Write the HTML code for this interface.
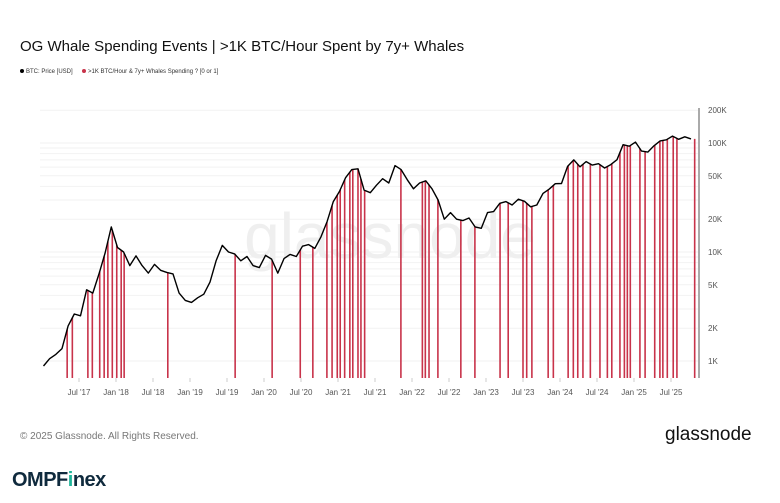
<!DOCTYPE html>
<html><head><meta charset="utf-8"><style>
body{margin:0;background:#fff;font-family:"Liberation Sans",sans-serif;}
#wrap{position:relative;width:780px;height:503px;overflow:hidden;background:#fff}
.t{position:absolute;white-space:nowrap}
</style></head><body>
<div id="wrap">
<div class="t" style="left:20px;top:38px;font-size:15px;color:#111">OG Whale Spending Events | &gt;1K BTC/Hour Spent by 7y+ Whales</div>
<div class="t" style="left:20px;top:69px;font-size:6px;color:#333"><span style="display:inline-block;width:4px;height:4px;border-radius:2px;background:#000;margin-right:2px"></span>BTC: Price [USD]</div>
<div class="t" style="left:82px;top:69px;font-size:6px;color:#333"><span style="display:inline-block;width:4px;height:4px;border-radius:2px;background:#c8334a;margin-right:2px"></span>&gt;1K BTC/Hour &amp; 7y+ Whales Spending ? [0 or 1]</div>
<svg id="chart" width="780" height="503" style="position:absolute;left:0;top:0"></svg>
<div class="t" style="left:20px;top:431px;font-size:10px;color:#777">© 2025 Glassnode. All Rights Reserved.</div>
<div class="t" style="left:665px;top:424px;font-size:19px;color:#111">glassnode</div>
<div class="t" style="left:12px;top:469px;font-size:20px;font-weight:bold;color:#0f2a3d;letter-spacing:-0.5px">OMPF<span style="color:#1fb59a">i</span>nex</div>
</div>
<script>
const priceStart = 2017.0;
const prices = [900,1050,1150,1300,2100,2700,2600,4500,4200,6300,9800,17000,
11000,10000,7500,9200,7500,6400,7700,6800,6500,6300,4200,3600,
3450,3800,4100,5300,8300,11500,10000,9600,8300,9100,7500,7200,
9300,8600,6400,8700,9500,9100,11300,11700,10800,13800,19000,29000,
36000,48000,57000,58000,37000,35000,41000,47000,43000,62000,57000,46000,
38000,43000,45000,38000,30000,20000,23000,20000,19400,20500,17000,16500,
23000,23500,28000,29000,27000,30500,29200,26000,27000,34500,37700,42300,
42500,61000,70000,60500,67500,62700,64600,59000,63300,70200,96400,93400,
102000,84300,82500,94200,104600,107000,115700,108200,114000,109000];
const eventDates = [2017.34,2017.41,2017.62,2017.68,2017.78,2017.84,2017.89,2017.95,2018.01,2018.07,2018.11,2018.70,
2019.61,2020.11,2020.49,2020.66,2020.85,2020.92,2020.99,2021.03,2021.09,2021.16,2021.20,2021.27,2021.31,2021.36,
2021.85,2022.14,2022.18,2022.23,2022.35,2022.66,2022.85,
2023.19,2023.30,2023.50,2023.55,2023.62,2023.84,2023.91,2024.11,2024.18,2024.24,2024.31,2024.41,2024.54,2024.64,2024.70,
2024.81,2024.87,2024.91,2024.95,2025.08,2025.15,2025.28,2025.35,2025.39,2025.45,2025.53,2025.58,2025.82];
const yTicks = [200000,100000,50000,20000,10000,5000,2000,1000];
const yTickLabels = ["200K","100K","50K","20K","10K","5K","2K","1K"];
const xTicks = [2017.5,2018,2018.5,2019,2019.5,2020,2020.5,2021,2021.5,2022,2022.5,2023,2023.5,2024,2024.5,2025,2025.5];
const xTickLabels = ["Jul '17","Jan '18","Jul '18","Jan '19","Jul '19","Jan '20","Jul '20","Jan '21","Jul '21","Jan '22","Jul '22","Jan '23","Jul '23","Jan '24","Jul '24","Jan '25","Jul '25"];

const svg = document.getElementById('chart');
const NS = 'http://www.w3.org/2000/svg';
const X = d => 116 + (d - 2018) * 74;
const Y = v => 143 - 109 * Math.log10(v / 100000);
const bottom = 378;
function mk(tag, attrs){const e=document.createElementNS(NS,tag);for(const k in attrs)e.setAttribute(k,attrs[k]);svg.appendChild(e);return e;}
for (let dec of [1000,10000,100000]) for (let m=1;m<=9;m++){ const v=dec*m; if(v<800||v>200000) continue;
  const g=mk('line',{x1:40,x2:698,y1:Y(v),y2:Y(v),stroke:'#f2f2f2','stroke-width':1});
    }
const wm=mk('text',{x:390,y:258,'font-size':64,fill:'#efefef','text-anchor':'middle','font-family':'Liberation Sans, sans-serif'});
wm.textContent='glassnode';


const pts = prices.map((p,i)=>[priceStart+0.02+i/12,p]);
function priceAt(d){ for(let i=0;i<pts.length-1;i++){ if(d<=pts[i+1][0]){ const t=(d-pts[i][0])/(pts[i+1][0]-pts[i][0]); return Math.pow(10,Math.log10(pts[i][1])*(1-t)+Math.log10(pts[i+1][1])*t);} } return pts[pts.length-1][1]; }
eventDates.forEach(d=>{ const l=mk('line',{x1:X(d),x2:X(d),y1:bottom,y2:Y(priceAt(d)),stroke:'#c8334a','stroke-width':1.6});
    });
const pl=mk('polyline',{points:pts.map(p=>X(p[0]).toFixed(1)+','+Y(p[1]).toFixed(1)).join(' '),fill:'none',stroke:'#000','stroke-width':1.4,'stroke-linejoin':'round'});


const ax=mk('line',{x1:699,x2:699,y1:108,y2:bottom,stroke:'#555','stroke-width':1});


yTicks.forEach((v,i)=>{ const t=mk('text',{x:708,y:Y(v)+3,'font-size':8,fill:'#555','font-family':'Liberation Sans, sans-serif'}); t.textContent=yTickLabels[i];
    });
xTicks.forEach((d,i)=>{ const tk=mk('line',{x1:X(d),x2:X(d),y1:bottom,y2:bottom+4,stroke:'#ccc'});
   
  const t=mk('text',{x:X(d),y:395,'font-size':8,fill:'#555','text-anchor':'middle','font-family':'Liberation Sans, sans-serif'}); t.textContent=xTickLabels[i];
    });
</script>
</body></html>
